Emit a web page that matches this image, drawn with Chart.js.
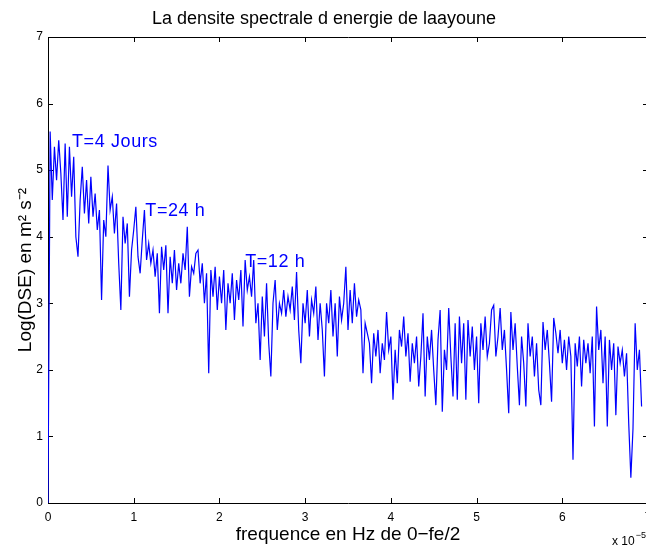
<!DOCTYPE html>
<html>
<head>
<meta charset="utf-8">
<title>DSE laayoune</title>
<script src="https://cdn.jsdelivr.net/npm/chart.js@4.4.0/dist/chart.umd.min.js"></script>
<style>
    html, body { margin: 0; padding: 0; background: #fff; overflow: hidden; }
    #wrap { width: 646px; height: 546px; overflow: hidden; }
</style>
</head>
<body>
<div id="wrap"><canvas id="dseChart" width="660" height="546"></canvas></div>
<script>
// frequency resolution, in units of 10^-5 Hz
const FREQ_STEP = 0.025;

// log of the spectral energy density, one value per frequency bin
const dseValues = [
    0, 5.58, 4.55, 5.35, 4.85, 5.45, 4.95, 4.25, 5.4, 4.3,
    5.35, 4.6, 5.2, 4.0, 3.7, 4.55, 5.05, 4.35, 4.85, 4.2,
    4.9, 4.3, 4.65, 4.1, 4.4, 3.05, 4.25, 4.0, 5.07, 4.4,
    4.6, 4.05, 4.5, 3.6, 2.9, 4.3, 3.9, 4.2, 3.1, 3.8,
    4.1, 4.45, 3.7, 3.45, 3.95, 4.4, 3.65, 3.9, 3.6, 3.8,
    3.4, 3.75, 2.85, 3.85, 3.5, 3.87, 2.85, 3.7, 3.3, 3.8,
    3.2, 3.6, 3.3, 3.75, 3.5, 4.15, 3.1, 3.55, 3.45, 3.75,
    3.8, 3.3, 3.6, 3.0, 3.45, 1.95, 3.5, 3.1, 3.55, 2.9,
    3.4, 3.0, 3.5, 2.6, 3.3, 3.0, 3.45, 2.75, 3.35, 3.05,
    3.5, 2.65, 3.65, 3.2, 3.4, 3.1, 3.65, 2.7, 3.0, 2.15,
    3.1, 2.5, 3.3, 2.4, 1.9, 3.0, 3.35, 2.6, 3.0, 2.85,
    3.2, 2.8, 3.1, 2.9, 3.25, 2.75, 3.47, 2.6, 2.1, 3.0,
    2.7, 3.2, 2.5, 3.05, 2.85, 3.25, 2.45, 3.0, 2.6, 1.9,
    3.0, 2.7, 3.2, 2.5, 3.0, 2.2, 3.1, 2.75, 3.0, 3.55,
    2.6, 3.2, 2.7, 3.3, 2.8, 3.05, 2.9, 1.95, 2.7, 2.55,
    2.4, 1.8, 2.55, 2.2, 2.6, 1.95, 2.4, 2.15, 2.87, 2.3,
    2.5, 1.55, 2.3, 1.8, 2.6, 2.35, 2.8, 2.2, 2.55, 1.82,
    2.4, 2.1, 2.5, 1.75, 2.2, 2.85, 1.6, 2.5, 2.15, 2.6,
    2.0, 1.47, 2.45, 2.9, 1.37, 2.3, 2.0, 2.93, 2.2, 1.6,
    2.7, 1.55, 2.8, 2.1, 2.7, 1.55, 2.75, 2.2, 2.65, 2.0,
    2.5, 1.5, 2.7, 2.3, 2.8, 2.2, 2.4, 2.9, 2.97, 2.2,
    2.5, 2.93, 2.3, 2.6, 2.0, 1.35, 2.87, 2.3, 2.7, 2.05,
    1.47, 2.5, 2.1, 1.45, 2.7, 2.2, 2.5, 1.9, 2.4, 1.7,
    1.47, 2.72, 2.3, 2.6, 2.1, 1.52, 2.78, 2.55, 2.25, 2.6,
    2.1, 2.45, 2.0, 2.5, 2.2, 0.65, 2.4, 2.05, 2.5, 1.75,
    2.45, 2.1, 2.4, 1.95, 2.5, 1.15, 2.95, 2.3, 2.6, 1.8,
    2.5, 1.15, 2.45, 2.0, 2.4, 1.32, 2.35, 2.1, 2.3, 1.9,
    2.25, 1.2, 0.38, 1.12, 2.7, 2.0, 2.3, 1.45
];

const xTicks = [0, 1, 2, 3, 4, 5, 6, 7];
const yTicks = [0, 1, 2, 3, 4, 5, 6, 7];

// period markers written next to the peaks
const periodLabels = ['T=4 Jours', 'T=24 h', 'T=12 h'];
const periodX = [0.28, 1.135, 2.3];
const periodY = [5.42, 4.38, 3.62];

const FONT = "'Liberation Sans', Arial, Helvetica, sans-serif";

// MATLAB style box with inward ticks on all four sides
const boxPlugin = {
    id: 'matlabBox',
    beforeDatasetsDraw(chart) {
        const { ctx, chartArea: a, scales: { x, y } } = chart;
        const len = 5;
        ctx.save();
        ctx.strokeStyle = '#000';
        ctx.lineWidth = 1;
        ctx.beginPath();
        ctx.rect(Math.round(a.left) + 0.5, Math.round(a.top) + 0.5,
                 Math.round(a.right - a.left), Math.round(a.bottom - a.top));
        xTicks.forEach(v => {
            const px = Math.round(x.getPixelForValue(v)) + 0.5;
            ctx.moveTo(px, a.bottom);
            ctx.lineTo(px, a.bottom - len);
            ctx.moveTo(px, a.top);
            ctx.lineTo(px, a.top + len);
        });
        yTicks.forEach(v => {
            const py = Math.round(y.getPixelForValue(v)) + 0.5;
            ctx.moveTo(a.left, py);
            ctx.lineTo(a.left + len, py);
            ctx.moveTo(a.right, py);
            ctx.lineTo(a.right - len, py);
        });
        ctx.stroke();
        ctx.restore();
    }
};

// period annotations and the x10^-5 exponent under the axis
const textPlugin = {
    id: 'extraText',
    afterDatasetsDraw(chart) {
        const { ctx, chartArea: a, scales: { x, y } } = chart;
        ctx.save();
        ctx.fillStyle = '#0000ff';
        ctx.font = `18px ${FONT}`;
        ctx.letterSpacing = '0.6px';
        ctx.textAlign = 'left';
        ctx.textBaseline = 'middle';
        periodLabels.forEach((t, i) => {
            ctx.fillText(t, x.getPixelForValue(periodX[i]), y.getPixelForValue(periodY[i]));
        });

        ctx.letterSpacing = '0px';
        ctx.fillStyle = '#000';
        ctx.font = `12px ${FONT}`;
        ctx.textBaseline = 'alphabetic';
        const ex = a.right - 36;
        ctx.fillText('x 10', ex, a.bottom + 42);
        const w = ctx.measureText('x 10').width;
        ctx.font = `9px ${FONT}`;
        ctx.fillText('\u22125', ex + w + 1, a.bottom + 35);
        ctx.restore();
    }
};

document.addEventListener('DOMContentLoaded', () => {
    const points = dseValues.map((v, i) => ({ x: i * FREQ_STEP, y: v }));
    const ctx = document.getElementById('dseChart').getContext('2d');

    new Chart(ctx, {
        type: 'line',
        data: {
            datasets: [{
                data: points,
                borderColor: '#0000ff',
                borderWidth: 1.2,
                pointRadius: 0,
                tension: 0,
                fill: false
            }]
        },
        options: {
            responsive: false,
            animation: false,
            layout: { padding: { left: 0, right: 12, top: 0, bottom: 0 } },
            plugins: {
                legend: { display: false },
                tooltip: { enabled: false },
                title: {
                    display: true,
                    text: 'La densite spectrale d energie de laayoune',
                    color: '#000',
                    font: { family: FONT, size: 18, weight: 'normal' },
                    padding: { top: 8, bottom: 7.4 }
                }
            },
            scales: {
                x: {
                    type: 'linear',
                    min: 0,
                    max: 7,
                    afterFit: scale => { scale.height = 43; },
                    afterBuildTicks: scale => { scale.ticks = xTicks.map(v => ({ value: v })); },
                    grid: { display: false, drawTicks: false },
                    border: { display: false },
                    ticks: {
                        color: '#000',
                        font: { family: FONT, size: 12 },
                        padding: 7,
                        maxRotation: 0
                    },
                    title: {
                        display: true,
                        text: 'frequence en Hz de 0\u2212fe/2',
                        color: '#000',
                        font: { family: FONT, size: 19 },
                        padding: { top: 0, bottom: 0 }
                    }
                },
                y: {
                    min: 0,
                    max: 7,
                    afterFit: scale => { scale.width = 48; },
                    afterBuildTicks: scale => { scale.ticks = yTicks.map(v => ({ value: v })); },
                    grid: { display: false, drawTicks: false },
                    border: { display: false },
                    ticks: {
                        color: '#000',
                        font: { family: FONT, size: 12 },
                        padding: 5
                    },
                    title: {
                        display: true,
                        text: 'Log(DSE) en m\u00b2 s\u207b\u00b2',
                        color: '#000',
                        font: { family: FONT, size: 19 },
                        padding: { top: 14, bottom: 0 }
                    }
                }
            }
        },
        plugins: [boxPlugin, textPlugin]
    });
});
</script>
</body>
</html>
